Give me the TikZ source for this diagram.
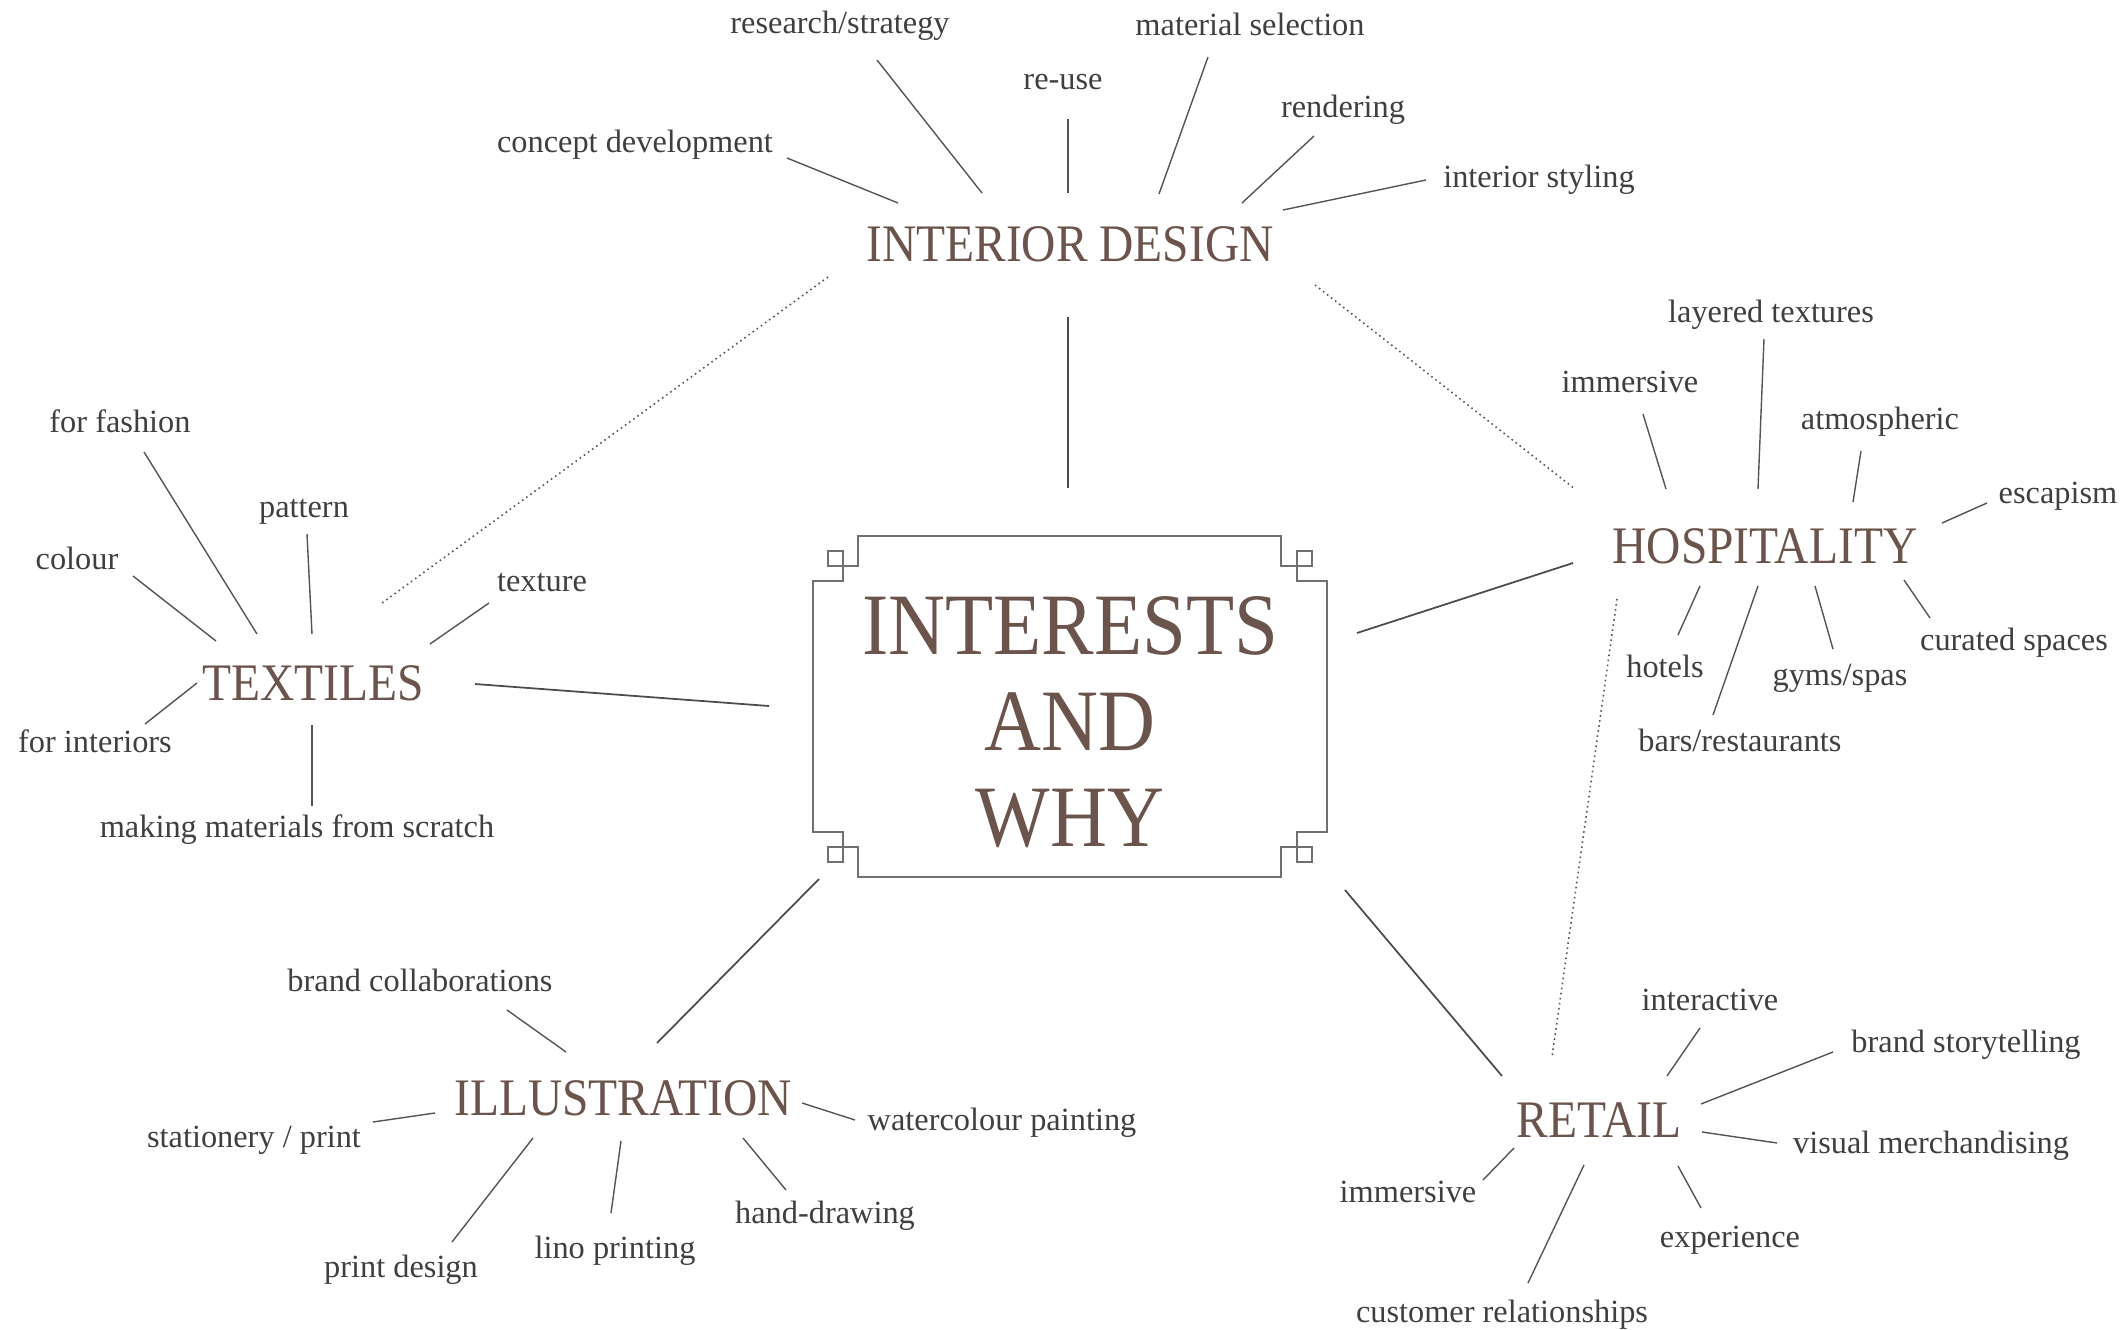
\documentclass[tikz,border=0pt]{standalone}
\usepackage{fontspec}
\setmainfont{Liberation Serif}
\newfontfamily\headfont{Liberation Serif}[FakeStretch=0.9]
\definecolor{headbrown}{HTML}{6A544B}
\definecolor{itemgrey}{HTML}{3F3F3F}
\definecolor{linegrey}{HTML}{555555}
\definecolor{framegrey}{HTML}{707070}

\begin{document}
\begin{tikzpicture}[x=0.01cm, y=-0.01cm,
    topic/.style={anchor=base, inner sep=0pt, text=headbrown, font=\headfont\fontsize{15}{18}\selectfont},
    item/.style={anchor=base, inner sep=0pt, text=itemgrey, font=\fontsize{9.2}{11}\selectfont},
    spoke/.style={draw=linegrey, line width=0.4pt},
    trunk/.style={draw=linegrey!90!black, line width=0.5pt},
    linkline/.style={draw=linegrey, line width=0.45pt, dash pattern=on 0.45pt off 1pt}]
    \useasboundingbox (0,0) rectangle (2126,1330);

    \draw[framegrey, line width=0.5pt] (858,536) -- (1281,536) -- (1281,566) -- (1297,566) -- (1297,581)
        -- (1327,581) -- (1327,832) -- (1297,832) -- (1297,847) -- (1281,847) -- (1281,877)
        -- (858,877) -- (858,847) -- (843,847) -- (843,832) -- (813,832) -- (813,581)
        -- (843,581) -- (843,566) -- (858,566) -- cycle;
    \draw[framegrey, line width=0.5pt] (828,551) rectangle (843,566);
    \draw[framegrey, line width=0.5pt] (1297,551) rectangle (1312,566);
    \draw[framegrey, line width=0.5pt] (828,847) rectangle (843,862);
    \draw[framegrey, line width=0.5pt] (1297,847) rectangle (1312,862);
    \node[inner sep=0pt, text=headbrown, align=center,
        font=\headfont\fontsize{24.9}{27.3}\selectfont] (centre) at (1070,722) {INTERESTS\\AND\\WHY};

    \node[topic] (interior) at (1070,261) {INTERIOR DESIGN};
    \node[topic] (hospitality) at (1765,563) {HOSPITALITY};
    \node[topic] (textiles) at (313,700) {TEXTILES};
    \node[topic] (illustration) at (623,1115) {ILLUSTRATION};
    \node[topic] (retail) at (1599,1137) {RETAIL};

    \node[item] (research) at (840,33) {research/strategy};
    \node[item] (concept) at (635,152) {concept development};
    \node[item] (reuse) at (1063,90) {re-use};
    \node[item] (material) at (1250,35) {material selection};
    \node[item] (rendering) at (1343,117) {rendering};
    \node[item] (styling) at (1539,187) {interior styling};

    \node[item] (layered) at (1771,322) {layered textures};
    \node[item] (immersiveh) at (1630,392) {immersive};
    \node[item] (atmospheric) at (1880,429) {atmospheric};
    \node[item] (escapism) at (2058,503) {escapism};
    \node[item] (hotels) at (1665,677) {hotels};
    \node[item] (bars) at (1740,751) {bars/restaurants};
    \node[item] (gyms) at (1840,685) {gyms/spas};
    \node[item] (curated) at (2014,650) {curated spaces};

    \node[item] (fashion) at (120,432) {for fashion};
    \node[item] (pattern) at (304,517) {pattern};
    \node[item] (colour) at (77,569) {colour};
    \node[item] (texture) at (542,591) {texture};
    \node[item] (interiors) at (95,752) {for interiors};
    \node[item] (making) at (297,837) {making materials from scratch};

    \node[item] (collabs) at (420,991) {brand collaborations};
    \node[item] (stationery) at (254,1147) {stationery / print};
    \node[item] (printdesign) at (401,1277) {print design};
    \node[item] (lino) at (615,1258) {lino printing};
    \node[item] (handdrawing) at (825,1223) {hand-drawing};
    \node[item] (watercolour) at (1002,1130) {watercolour painting};

    \node[item] (interactive) at (1710,1010) {interactive};
    \node[item] (storytelling) at (1966,1052) {brand storytelling};
    \node[item] (visual) at (1931,1153) {visual merchandising};
    \node[item] (immersiver) at (1408,1202) {immersive};
    \node[item] (customer) at (1502,1322) {customer relationships};
    \node[item] (experience) at (1730,1247) {experience};

    \coordinate (idres1) at (877,60);    \coordinate (idres2) at (982,193);
    \coordinate (idcon1) at (787,158);   \coordinate (idcon2) at (898,203);
    \coordinate (idreu1) at (1068,119);  \coordinate (idreu2) at (1068,193);
    \coordinate (idmat1) at (1208,57);   \coordinate (idmat2) at (1159,194);
    \coordinate (idren1) at (1314,136);  \coordinate (idren2) at (1242,203);
    \coordinate (idsty1) at (1426,180);  \coordinate (idsty2) at (1283,210);

    \coordinate (holay1) at (1764,339);  \coordinate (holay2) at (1758,489);
    \coordinate (hoimm1) at (1643,414);  \coordinate (hoimm2) at (1666,489);
    \coordinate (hoatm1) at (1861,451);  \coordinate (hoatm2) at (1853,502);
    \coordinate (hoesc1) at (1987,503);  \coordinate (hoesc2) at (1942,523);
    \coordinate (hohot1) at (1700,586);  \coordinate (hohot2) at (1678,635);
    \coordinate (hobar1) at (1758,586);  \coordinate (hobar2) at (1713,715);
    \coordinate (hogym1) at (1815,586);  \coordinate (hogym2) at (1833,649);
    \coordinate (hocur1) at (1904,580);  \coordinate (hocur2) at (1930,618);

    \coordinate (txfas1) at (144,452);   \coordinate (txfas2) at (257,634);
    \coordinate (txpat1) at (307,534);   \coordinate (txpat2) at (312,634);
    \coordinate (txcol1) at (133,576);   \coordinate (txcol2) at (216,641);
    \coordinate (txtex1) at (489,603);   \coordinate (txtex2) at (430,644);
    \coordinate (txint1) at (145,724);   \coordinate (txint2) at (197,683);
    \coordinate (txmak1) at (312,725);   \coordinate (txmak2) at (312,806);

    \coordinate (ilbra1) at (507,1010);  \coordinate (ilbra2) at (566,1052);
    \coordinate (ilsta1) at (373,1122);  \coordinate (ilsta2) at (435,1113);
    \coordinate (ilpri1) at (452,1242);  \coordinate (ilpri2) at (533,1138);
    \coordinate (illin1) at (611,1213);  \coordinate (illin2) at (621,1141);
    \coordinate (ilhan1) at (743,1138);  \coordinate (ilhan2) at (786,1190);
    \coordinate (ilwat1) at (802,1103);  \coordinate (ilwat2) at (855,1120);

    \coordinate (reint1) at (1700,1028); \coordinate (reint2) at (1667,1076);
    \coordinate (rebra1) at (1701,1104); \coordinate (rebra2) at (1833,1052);
    \coordinate (revis1) at (1702,1132); \coordinate (revis2) at (1777,1143);
    \coordinate (reimm1) at (1483,1180); \coordinate (reimm2) at (1514,1148);
    \coordinate (recus1) at (1528,1283); \coordinate (recus2) at (1584,1165);
    \coordinate (reexp1) at (1678,1166); \coordinate (reexp2) at (1701,1208);

    \coordinate (ceid1) at (1068,317);   \coordinate (ceid2) at (1068,488);
    \coordinate (ceho1) at (1573,563);   \coordinate (ceho2) at (1357,633);
    \coordinate (cetx1) at (475,684);    \coordinate (cetx2) at (769,706);
    \coordinate (ceil1) at (819,879);    \coordinate (ceil2) at (657,1043);
    \coordinate (cere1) at (1345,890);   \coordinate (cere2) at (1502,1076);

    \coordinate (dtx1) at (828,277);     \coordinate (dtx2) at (382,603);
    \coordinate (dho1) at (1315,285);    \coordinate (dho2) at (1575,489);
    \coordinate (dre1) at (1617,599);    \coordinate (dre2) at (1552,1057);

    \foreach \s in {idres,idcon,idreu,idmat,idren,idsty,holay,hoimm,hoatm,hoesc,hohot,hobar,hogym,hocur,
        txfas,txpat,txcol,txtex,txint,txmak,ilbra,ilsta,ilpri,illin,ilhan,ilwat,reint,rebra,revis,reimm,recus,reexp}
        \draw[spoke] (\s1) -- (\s2);
    \foreach \s in {ceid,ceho,cetx,ceil,cere}
        \draw[trunk] (\s1) -- (\s2);
    \foreach \s in {dtx,dho,dre}
        \draw[linkline] (\s1) -- (\s2);
\end{tikzpicture}
\end{document}
